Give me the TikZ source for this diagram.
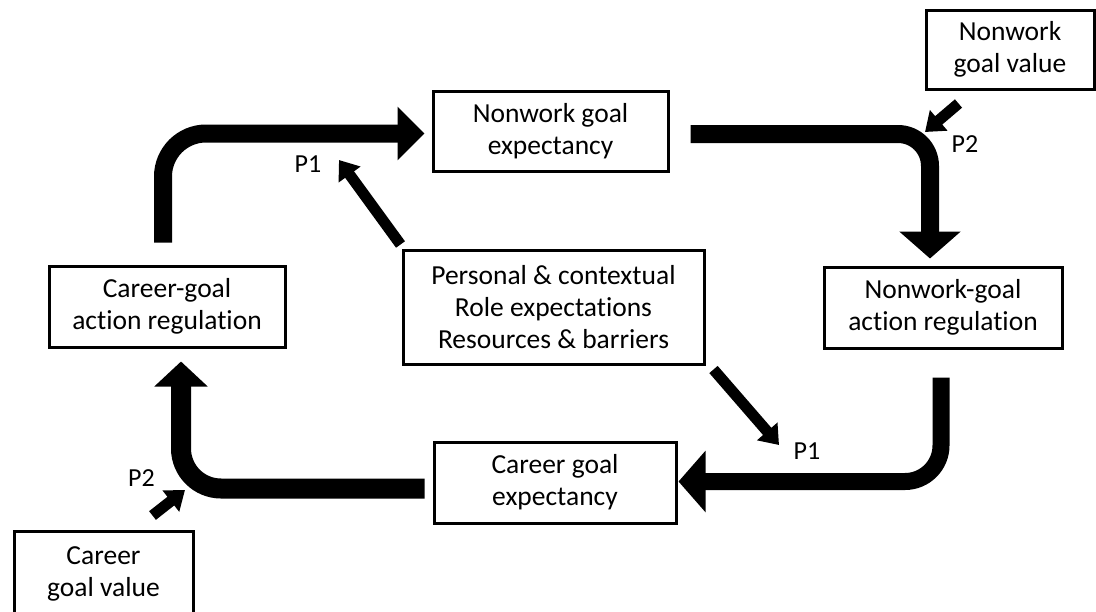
\documentclass[tikz,border=0pt]{standalone}
\usepackage{fontspec}
\setmainfont{Carlito}[Ligatures=NoCommon]
\usetikzlibrary{arrows.meta,calc}
\begin{document}
\begin{tikzpicture}[x=1pt,y=-1pt,
  box/.style={draw=black,line width=3pt,inner sep=0pt,align=center,font=\fontsize{27.5}{32}\selectfont},
  lbl/.style={inner sep=0pt,font=\fontsize{26}{30}\selectfont},
  bigarrow/.style={line width=18pt,-{Triangle[length=27pt,width=56pt]}},
  smallarrow/.style={line width=11pt,-{Triangle[length=18pt,width=26pt]}}]
\useasboundingbox (0,0) rectangle (1096,611);
\clip (0,0) rectangle (1096,611);
\fill[white] (0,0) rectangle (1096,611);

% boxes
\node[box,minimum width=235pt,minimum height=80pt] (nge) at (550.5,131) {Nonwork goal\\expectancy};
\node[box,minimum width=168pt,minimum height=79pt] (nwv) at (1010,49.5) {Nonwork\\goal value};
\node[box,minimum width=236pt,minimum height=81pt] (car) at (167,306.5) {Career-goal\\action regulation};
\node[box,minimum width=301pt,minimum height=114pt] (pers) at (553.5,307) {Personal \& contextual\\Role expectations\\Resources \& barriers};
\node[box,minimum width=238pt,minimum height=81pt] (nwa) at (943,307.5) {Nonwork-goal\\action regulation};
\node[box,minimum width=242pt,minimum height=81pt] (cge) at (555,482.5) {Career goal\\expectancy};
\node[box,minimum width=179pt,minimum height=85pt] (cgv) at (103.5,573.5) {Career\\goal value};

% labels
\node[lbl] (l1) at (308,164) {P1};
\node[lbl] (l2) at (807,451) {P1};
\node[lbl] (l3) at (965,144) {P2};
\node[lbl] (l4) at (141.5,478) {P2};

% tips of the small arrows
\coordinate (t1) at (339,160);
\coordinate (t2) at (779,445);
\coordinate (t3) at (925,132);
\coordinate (t4) at (185,490);

% cycle arrows
\draw[bigarrow,rounded corners=43pt,-{Triangle[length=27pt,width=52pt]}]
  ($(car.north)+(-4,-22)$) |- ($(nge.west)+(-7,2.5)$);
\draw[bigarrow,rounded corners=32pt,-{Triangle[length=27pt,width=60pt]}]
  ($(nge.east)+(21,3)$) -| ($(nwa.north)+(-13,-7)$);
\draw[bigarrow,rounded corners=36pt,line width=17pt,-{Triangle[length=27pt,width=60pt]}]
  ($(nwa.south)+(-2,28)$) |- ($(cge.east)+(1,-1)$);
\draw[bigarrow,rounded corners=40pt,line width=20pt,-{Triangle[length=25pt,width=52pt]}]
  ($(cge.west)+(-8,6)$) -| ($(car.south)+(14,13)$);

% moderator arrows
\draw[smallarrow] ($(pers.north west)+(-1,-4)$) -- (t1);
\draw[smallarrow] ($(pers.south east)+(8,4)$) -- (t2);
\draw[smallarrow] ($(nwv.south west)+(34,13)$) -- (t3);
\draw[smallarrow] ($(cgv.north west)+(140,-14)$) -- (t4);
\end{tikzpicture}
\end{document}
